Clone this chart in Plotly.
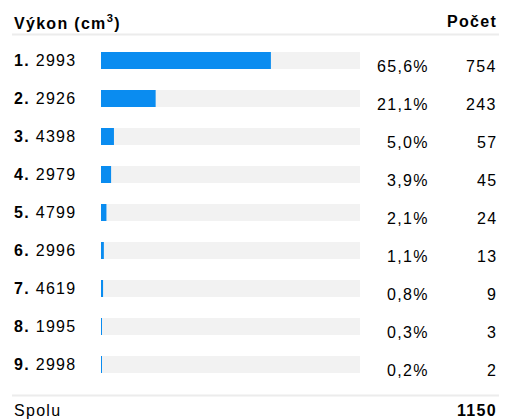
import plotly.graph_objects as go

# Engine displacement breakdown
ranks = [1, 2, 3, 4, 5, 6, 7, 8, 9]
displacements = ["2993", "2926", "4398", "2979", "4799", "2996", "4619", "1995", "2998"]
counts = [754, 243, 57, 45, 24, 13, 9, 3, 2]
total_label = "Spolu"
header_left = "Výkon (cm<sup>3</sup>)"
header_right = "Počet"

total = sum(counts)
shares = [round(c / total * 100, 1) for c in counts]
share_labels = [f"{s:.1f}".replace(".", ",") + "%" for s in shares]

W, H = 511, 419
FONT = "Liberation Sans, Arial, Helvetica, sans-serif"
BLUE = "#0a8cf0"
TRACK = "#f2f2f2"
RULE = "#ececec"
INK = "#000000"
SP = "letter-spacing:1.3px"


def px(x):
    return x / W


def py(y):
    return 1 - y / H


rows = list(range(len(counts)))
first_center, pitch = 60.5, 38.0
y_top = -first_center / pitch
y_bottom = (H - first_center) / pitch

fig = go.Figure()
fig.add_trace(go.Bar(
    y=rows, x=[100] * len(rows), orientation="h",
    marker=dict(color=TRACK, line=dict(width=0)),
    width=17 / pitch, hoverinfo="skip",
))
fig.add_trace(go.Bar(
    y=rows, x=shares, orientation="h",
    marker=dict(color=BLUE, line=dict(width=0)),
    width=17 / pitch, hoverinfo="skip",
))

ann = []
for i, (r, d, lab, c) in enumerate(zip(ranks, displacements, share_labels, counts)):
    ann.append(dict(x=px(12), xref="paper", y=i, yref="y", xanchor="left", yanchor="middle",
                    text=f"<span style='{SP}'><b>{r}.</b> {d}</span>", showarrow=False))
    ann.append(dict(x=px(431), xref="paper", y=i, yref="y", xanchor="right", yanchor="middle",
                    yshift=-6, text=f"<span style='{SP}'>{lab}</span>", showarrow=False))
    ann.append(dict(x=px(499), xref="paper", y=i, yref="y", xanchor="right", yanchor="middle",
                    yshift=-6, text=f"<span style='{SP}'>{c}</span>", showarrow=False))

ann += [
    dict(x=px(12), y=py(22), xref="paper", yref="paper", xanchor="left", yanchor="middle",
         text=f"<span style='{SP}'><b>{header_left}</b></span>", showarrow=False),
    dict(x=px(499), y=py(22), xref="paper", yref="paper", xanchor="right", yanchor="middle",
         text=f"<span style='{SP}'><b>{header_right}</b></span>", showarrow=False),
    dict(x=px(12), y=py(410), xref="paper", yref="paper", xanchor="left", yanchor="middle",
         text=f"<span style='{SP}'>{total_label}</span>", showarrow=False),
    dict(x=px(499), y=py(410), xref="paper", yref="paper", xanchor="right", yanchor="middle",
         text=f"<span style='{SP}'><b>{total}</b></span>", showarrow=False),
]

shapes = [
    dict(type="line", xref="paper", yref="paper", x0=px(12), x1=px(499), y0=py(34.5), y1=py(34.5),
         line=dict(color=RULE, width=2)),
    dict(type="line", xref="paper", yref="paper", x0=px(12), x1=px(499), y0=py(395.5), y1=py(395.5),
         line=dict(color=RULE, width=2)),
]

fig.update_layout(
    width=W, height=H,
    margin=dict(l=0, r=0, t=0, b=0),
    paper_bgcolor="white", plot_bgcolor="white",
    barmode="overlay", showlegend=False,
    font=dict(family=FONT, size=16, color=INK),
    xaxis=dict(domain=[px(101), px(360)], range=[0, 100], visible=False, fixedrange=True),
    yaxis=dict(domain=[0, 1], range=[y_bottom, y_top], visible=False, fixedrange=True),
    annotations=ann, shapes=shapes,
)

fig.write_html("out.html", config={"displayModeBar": False})
